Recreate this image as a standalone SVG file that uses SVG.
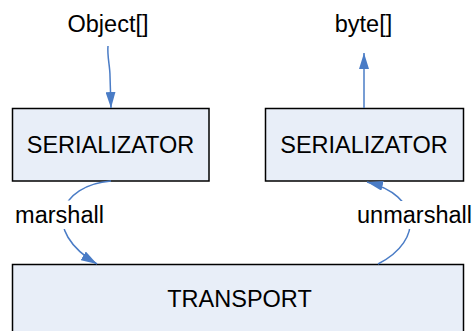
<svg xmlns="http://www.w3.org/2000/svg" width="473" height="331" viewBox="0 0 473 331">
<defs>
<style>
.box{fill:#E8EEF8;stroke:#000;stroke-width:1.5}
.t{font-family:"Liberation Sans",Arial,sans-serif;font-size:23.5px;fill:#000;text-anchor:middle}
.c{fill:none;stroke:#4A7CC6;stroke-width:1.5}
.bg{fill:#fff}
</style>
<marker id="ah" viewBox="0 0 16 10" refX="16" refY="5" markerWidth="16" markerHeight="10" markerUnits="userSpaceOnUse" orient="auto">
<path d="M0,0 L16,5 L0,10 Z" fill="#4A7CC6"/>
</marker>
</defs>
<rect width="473" height="331" fill="#fff"/>
<g id="node-serializer-left">
<rect class="box" x="12.5" y="108.5" width="196.5" height="72.5"/>
<text class="t" x="110.5" y="152.5">SERIALIZATOR</text>
</g>
<g id="node-serializer-right">
<rect class="box" x="265.5" y="108.5" width="198" height="72.5"/>
<text class="t" x="364" y="152.5">SERIALIZATOR</text>
</g>
<g id="node-transport">
<rect class="box" x="12.5" y="264.5" width="451" height="80"/>
<text class="t" x="239.5" y="307">TRANSPORT</text>
</g>
<g id="node-object">
<text class="t" x="108" y="32">Object[]</text>
</g>
<g id="node-byte">
<text class="t" x="363.5" y="32">byte[]</text>
</g>
<g id="connectors">
<path class="c" d="M108,46 C107,56 110,66 110,76 L111,108" marker-end="url(#ah)"/>
<path class="c" d="M364,108 L364,53" marker-end="url(#ah)"/>
<path class="c" d="M111,181 C60,185 40,230 97,264" marker-end="url(#ah)"/>
<path class="c" d="M378,264 C425,240 420,195 367,182" marker-end="url(#ah)"/>
<rect class="bg" x="14" y="200.5" width="92" height="28.5"/>
<text class="t" x="59.5" y="223">marshall</text>
<rect class="bg" x="356" y="201" width="117" height="28"/>
<text class="t" x="414.5" y="223">unmarshall</text>
</g>
</svg>
